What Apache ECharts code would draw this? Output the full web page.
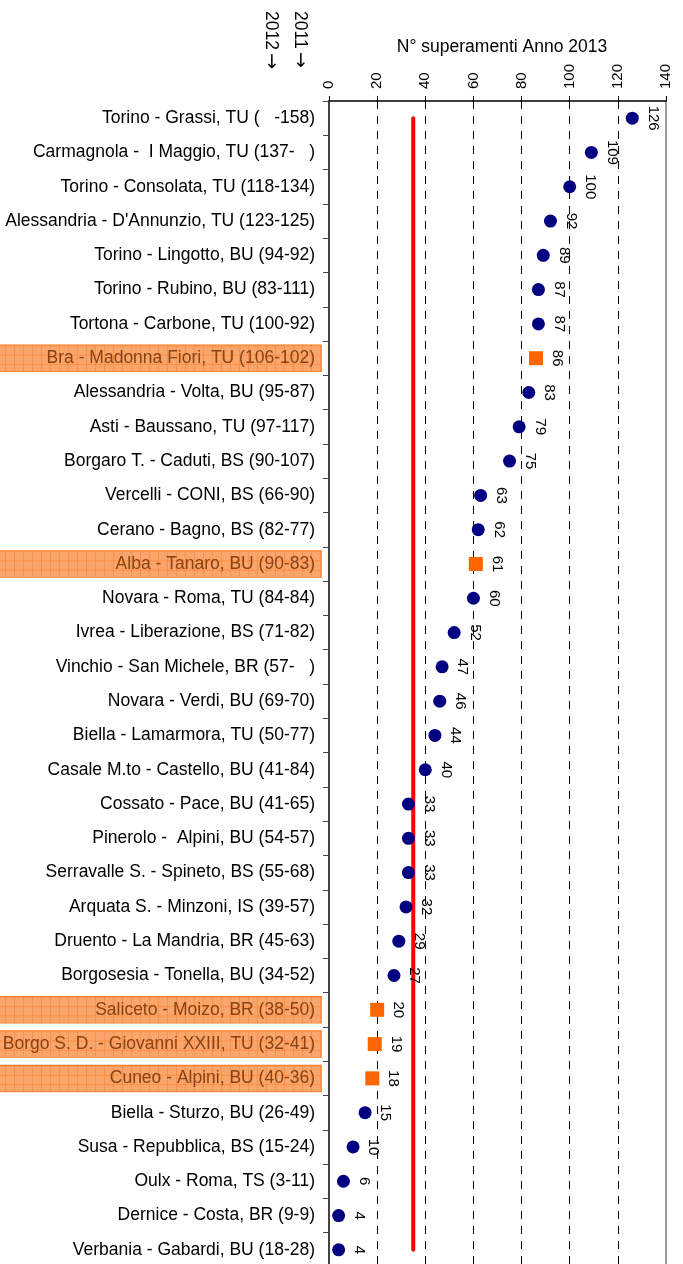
<!DOCTYPE html>
<html>
<head>
<meta charset="utf-8">
<script src="https://cdn.jsdelivr.net/npm/echarts@6/dist/echarts.min.js"></script>
<style>
  html, body { margin: 0; padding: 0; background: #fff; }
  #chart { width: 683px; height: 1264px; }
</style>
</head>
<body>
<div id="chart"></div>
<script>
// stazioni (anni 2011-2012 tra parentesi)
const stations = [
  'Torino - Grassi, TU (   -158)',
  'Carmagnola -  I Maggio, TU (137-   )',
  'Torino - Consolata, TU (118-134)',
  "Alessandria - D'Annunzio, TU (123-125)",
  'Torino - Lingotto, BU (94-92)',
  'Torino - Rubino, BU (83-111)',
  'Tortona - Carbone, TU (100-92)',
  'Bra - Madonna Fiori, TU (106-102)',
  'Alessandria - Volta, BU (95-87)',
  'Asti - Baussano, TU (97-117)',
  'Borgaro T. - Caduti, BS (90-107)',
  'Vercelli - CONI, BS (66-90)',
  'Cerano - Bagno, BS (82-77)',
  'Alba - Tanaro, BU (90-83)',
  'Novara - Roma, TU (84-84)',
  'Ivrea - Liberazione, BS (71-82)',
  'Vinchio - San Michele, BR (57-   )',
  'Novara - Verdi, BU (69-70)',
  'Biella - Lamarmora, TU (50-77)',
  'Casale M.to - Castello, BU (41-84)',
  'Cossato - Pace, BU (41-65)',
  'Pinerolo -  Alpini, BU (54-57)',
  'Serravalle S. - Spineto, BS (55-68)',
  'Arquata S. - Minzoni, IS (39-57)',
  'Druento - La Mandria, BR (45-63)',
  'Borgosesia - Tonella, BU (34-52)',
  'Saliceto - Moizo, BR (38-50)',
  'Borgo S. D. - Giovanni XXIII, TU (32-41)',
  'Cuneo - Alpini, BU (40-36)',
  'Biella - Sturzo, BU (26-49)',
  'Susa - Repubblica, BS (15-24)',
  'Oulx - Roma, TS (3-11)',
  'Dernice - Costa, BR (9-9)',
  'Verbania - Gabardi, BU (18-28)'
];
// n° superamenti 2013
const exceed2013 = [126, 109, 100, 92, 89, 87, 87, 86, 83, 79, 75, 63, 62, 61, 60, 52, 47, 46, 44, 40,
  33, 33, 33, 32, 29, 27, 20, 19, 18, 15, 10, 6, 4, 4];
// stazioni evidenziate (arancio)
const highlighted = [
  'Bra - Madonna Fiori, TU (106-102)',
  'Alba - Tanaro, BU (90-83)',
  'Saliceto - Moizo, BR (38-50)',
  'Borgo S. D. - Giovanni XXIII, TU (32-41)',
  'Cuneo - Alpini, BU (40-36)'
];
// limite 35 superamenti
const limit = 35;
const xTicks = { min: 0, max: 140, interval: 20 };

const FONT = 'Liberation Sans, Arial, sans-serif';

// texture arancio a griglia per le etichette evidenziate
function makePattern(w, h) {
  const c = document.createElement('canvas');
  c.width = w; c.height = h;
  const ctx = c.getContext('2d');
  ctx.fillStyle = '#f9a66c';
  ctx.fillRect(0, 0, w, h);
  ctx.strokeStyle = 'rgba(255,120,30,0.45)';
  ctx.lineWidth = 1;
  for (let x = w - 0.5; x > 0; x -= 9) {
    ctx.beginPath(); ctx.moveTo(x, 0); ctx.lineTo(x, h); ctx.stroke();
  }
  for (let y = 0.5; y < h; y += 9) {
    ctx.beginPath(); ctx.moveTo(0, y); ctx.lineTo(w, y); ctx.stroke();
  }
  return c;
}
const pattern = makePattern(324, 25);

const dots = [], squares = [];
stations.forEach((s, i) => {
  if (highlighted.includes(s)) squares.push([exceed2013[i], s]);
  else dots.push([exceed2013[i], s]);
});

const pointLabel = {
  show: true,
  position: 'right',
  distance: 14,
  rotate: -90,
  align: 'center',
  verticalAlign: 'middle',
  fontFamily: FONT,
  fontSize: 15,
  color: '#000',
  formatter: p => p.value[0]
};

const yearRich = {
  y: { fontFamily: FONT, fontSize: 17.5, color: '#000' },
  a: { fontFamily: 'DejaVu Sans', fontSize: 19, color: '#000' }
};

const chart = echarts.init(document.getElementById('chart'));
chart.setOption({
  animation: false,
  title: {
    text: 'N° superamenti Anno 2013',
    left: 497,
    top: 33,
    textAlign: 'center',
    textStyle: { fontFamily: FONT, fontSize: 17.5, fontWeight: 'normal', color: '#000' }
  },
  graphic: [
    {
      type: 'text', x: 300, y: 11, rotation: -Math.PI / 2,
      style: { text: '{y|2011} {a|→}', rich: yearRich, textAlign: 'left', textVerticalAlign: 'middle' }
    },
    {
      type: 'text', x: 271, y: 11, rotation: -Math.PI / 2,
      style: { text: '{y|2012} {a|→}', rich: yearRich, textAlign: 'left', textVerticalAlign: 'middle' }
    }
  ],
  grid: { left: 329, top: 101, right: 17, bottom: -3, containLabel: false, outerBoundsMode: 'none' },
  xAxis: {
    type: 'value',
    position: 'top',
    min: xTicks.min,
    max: xTicks.max,
    interval: xTicks.interval,
    axisLine: { show: true, lineStyle: { color: '#000', width: 1.5 } },
    axisTick: { show: true, length: 5, lineStyle: { color: '#000' } },
    axisLabel: {
      rotate: -90, margin: 12,
      fontFamily: FONT, fontSize: 15, color: '#000'
    },
    splitLine: {
      show: true, showMinLine: false, showMaxLine: false,
      lineStyle: { color: '#000', type: [8, 7], width: 1 }
    }
  },
  yAxis: [
    {
      type: 'category',
      data: stations,
      inverse: true,
      axisLine: { show: true, lineStyle: { color: '#444', width: 2 } },
      axisTick: { show: true, length: 6, lineStyle: { color: '#444' } },
      axisLabel: {
        margin: 8,
        interval: 0,
        formatter: v => highlighted.includes(v) ? '{hl|' + v + '}' : '{n|' + v + '}',
        rich: {
          n: { fontFamily: FONT, fontSize: 17.5, color: '#000', padding: [0, 6, 0, 0] },
          hl: {
            fontFamily: FONT, fontSize: 17.5, color: '#8a4212',
            width: 316, align: 'right', lineHeight: 17,
            padding: [4, 6, 4, 2],
            backgroundColor: { image: pattern },
            borderColor: '#ff7418', borderWidth: 1.5
          }
        }
      },
      splitLine: { show: false }
    },
    {
      type: 'category',
      data: stations,
      inverse: true,
      position: 'right',
      axisLine: { show: true, lineStyle: { color: '#999', width: 2 } },
      axisTick: { show: false },
      axisLabel: { show: false }
    }
  ],
  series: [
    {
      type: 'line',
      data: [[limit, stations[0]], [limit, stations[stations.length - 1]]],
      symbol: 'none',
      lineStyle: { color: '#ff0000', width: 4, cap: 'round' },
      z: 1
    },
    {
      type: 'scatter',
      data: dots,
      symbol: 'circle',
      symbolSize: 13,
      itemStyle: { color: '#000080', opacity: 1 },
      label: pointLabel,
      z: 3
    },
    {
      type: 'scatter',
      data: squares,
      symbol: 'rect',
      symbolSize: 14,
      itemStyle: { color: '#ff6600', opacity: 1 },
      label: pointLabel,
      z: 3
    }
  ]
});
</script>
</body>
</html>
